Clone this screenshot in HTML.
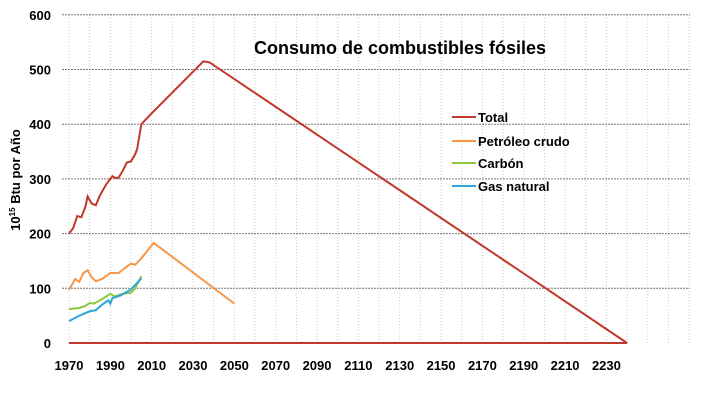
<!DOCTYPE html><html><head><style>body{margin:0;background:#fff}svg text{font-family:"Liberation Sans",sans-serif;font-weight:bold}</style></head><body>
<svg id="s" width="705" height="410" xmlns="http://www.w3.org/2000/svg">
<g id="grid"></g>
<text x="400" y="54" font-size="18" text-anchor="middle">Consumo de combustibles fósiles</text>
<text transform="translate(20,180) rotate(-90)" font-size="13" text-anchor="middle">10<tspan font-size="8" dy="-5">15</tspan><tspan dy="5"> Btu por Año</tspan></text>
<g font-size="13">
<line x1="452" y1="117" x2="476" y2="117" stroke="#c0392b" stroke-width="2"/><text x="478" y="122">Total</text>
<line x1="452" y1="141" x2="476" y2="141" stroke="#f79646" stroke-width="2"/><text x="478" y="146">Petróleo crudo</text>
<line x1="452" y1="163" x2="476" y2="163" stroke="#8cc63f" stroke-width="2"/><text x="478" y="168">Carbón</text>
<line x1="452" y1="186" x2="476" y2="186" stroke="#2ea7d8" stroke-width="2"/><text x="478" y="191">Gas natural</text>
</g>
<g id="d"></g>
</svg>
<script>
const X=y=>69+(y-1970)*2.067, Y=v=>343-v*0.547;
let g='';
for(let y=1970;y<=2270;y+=10)g+=`<line x1="${X(y)}" y1="15" x2="${X(y)}" y2="343" stroke="#ccc" stroke-dasharray="1,2"/>`;
for(let v=100;v<=600;v+=100)g+=`<line x1="62" y1="${Y(v)}" x2="690" y2="${Y(v)}" stroke="#777" stroke-dasharray="2,1"/>`;
for(let v=0;v<=600;v+=100)g+=`<text x="51" y="${Y(v)+5}" font-size="13" text-anchor="end">${v}</text>`;
for(let y=1970;y<=2230;y+=20)g+=`<text x="${X(y)}" y="370" font-size="13" text-anchor="middle">${y}</text>`;
document.getElementById('grid').innerHTML=g;
const S={'#c0392b':[[1970,200],[1972,210],[1974,232],[1976,230],[1978,250],[1979,268],[1981,255],[1983,252],[1985,270],[1988,290],[1990,300],[1991,305],[1992,302],[1994,302],[1996,315],[1998,330],[2000,332],[2002,345],[2003,355],[2005,400],[2010,420],[2035,515],[2038,513],[2240,0]],
'#f79646':[[1970,97],[1973,117],[1975,112],[1977,128],[1979,133],[1981,120],[1983,113],[1986,117],[1990,128],[1994,128],[1998,140],[2000,145],[2002,143],[2005,155],[2011,183],[2050,72]],
'#8cc63f':[[1970,62],[1975,64],[1978,68],[1980,73],[1982,72],[1986,80],[1990,90],[1992,85],[1996,90],[2000,92],[2002,100],[2005,122]],
'#2ea7d8':[[1970,40],[1975,50],[1980,58],[1983,60],[1986,70],[1989,78],[1990,72],[1991,82],[1995,87],[2000,98],[2005,118]]};
let d=`<line x1="69" y1="343" x2="${X(2240)}" y2="343" stroke="#c0392b" stroke-width="2"/>`;
for(const c in S)d+=`<polyline fill="none" stroke="${c}" stroke-width="2" points="${S[c].map(p=>X(p[0])+','+Y(p[1])).join(' ')}"/>`;
document.getElementById('d').innerHTML=d;
</script></body></html>
